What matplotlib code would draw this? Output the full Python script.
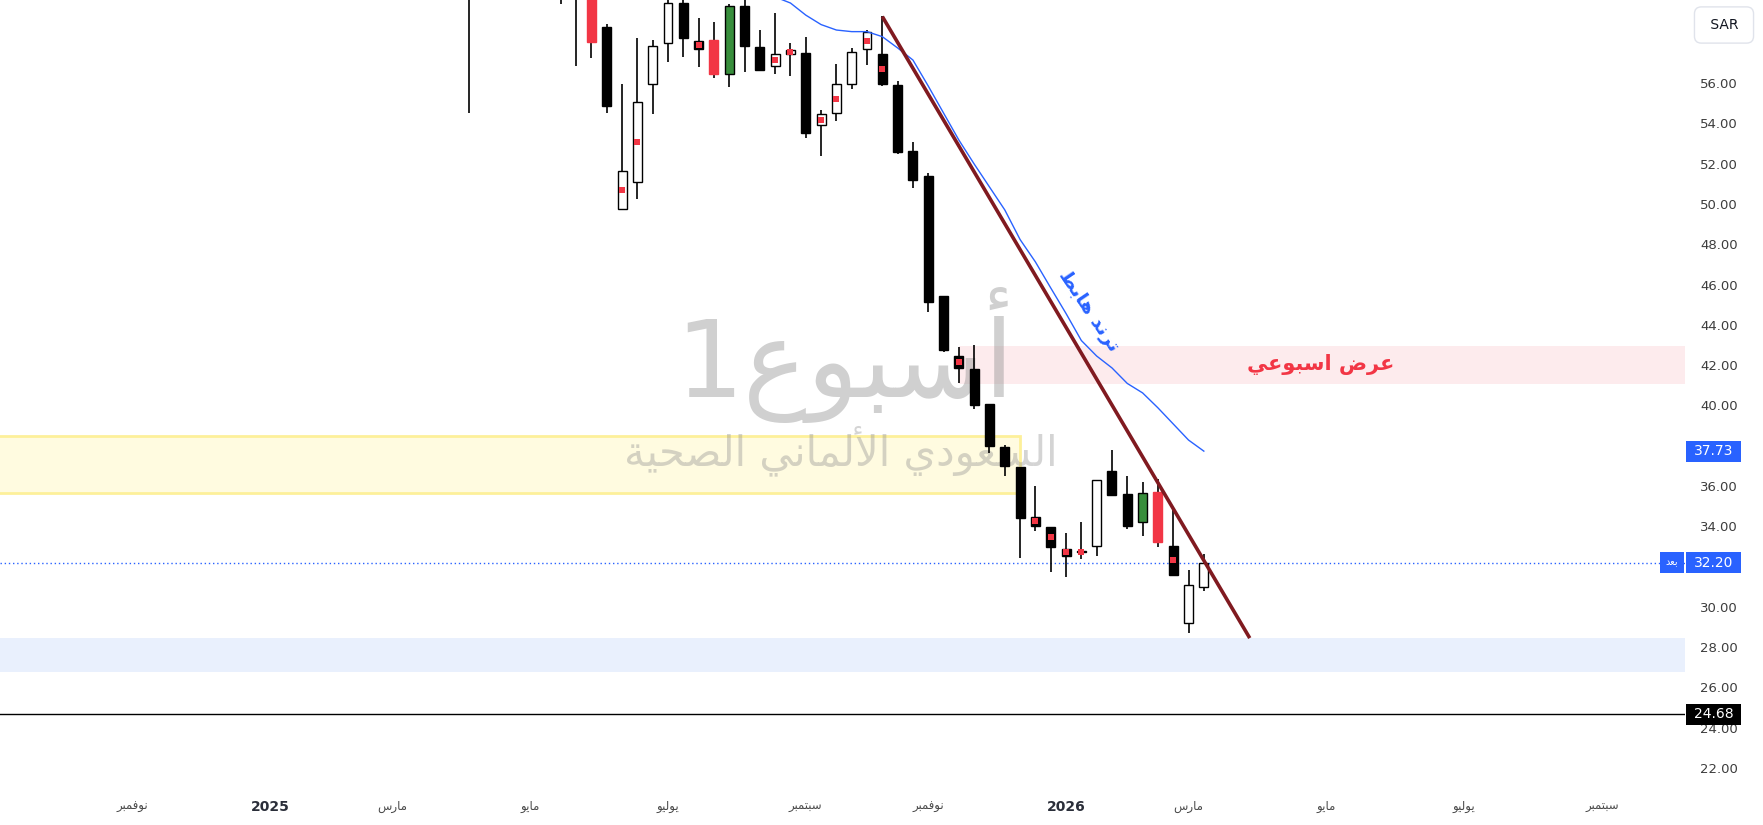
import matplotlib.pyplot as plt
import matplotlib.dates as mdates
from matplotlib.patches import Rectangle
import numpy as np
import pandas as pd

plt.rcParams['font.family'] = ['DejaVu Sans']

# weekly bars, Tadawul weeks start on Sunday
dates = pd.date_range('2025-04-06', periods=49, freq='7D')
opens = [62.8, 61.4, 62.6, 63.5, 62.9, 61.7, 62.2, 61.0, 61.8, 58.76,
         49.73, 51.10, 55.94, 57.97, 59.97, 58.07, 58.13, 56.43, 59.82, 57.79,
         56.83, 57.42, 57.49, 53.90, 54.50, 55.94, 57.67, 57.44, 55.90, 52.63,
         51.38, 45.44, 42.45, 41.79, 40.07, 37.95, 36.96, 34.46, 33.97, 32.86,
         32.76, 33.04, 36.74, 35.60, 34.20, 35.72, 33.02, 29.19, 30.97]
highs = [63.6, 63.2, 64.0, 64.8, 63.8, 62.8, 62.9, 62.5, 62.3, 58.91,
         55.95, 58.22, 58.12, 60.30, 60.30, 59.23, 59.03, 59.92, 60.40, 58.63,
         59.46, 57.99, 58.27, 54.65, 56.94, 57.74, 58.63, 59.33, 56.10, 53.07,
         51.52, 45.44, 42.88, 43.00, 40.07, 38.03, 36.96, 36.00, 33.97, 33.65,
         34.21, 36.28, 37.79, 36.50, 36.20, 36.35, 34.89, 31.83, 32.63]
lows = [54.51, 60.6, 61.8, 62.4, 61.2, 60.5, 59.92, 56.85, 57.24, 54.53,
        49.70, 50.26, 54.48, 57.06, 57.31, 56.81, 56.26, 55.82, 56.56, 56.62,
        56.46, 56.36, 53.29, 52.39, 54.13, 55.72, 56.91, 55.87, 52.49, 50.80,
        44.65, 42.64, 41.10, 39.81, 37.62, 36.51, 32.41, 33.78, 31.75, 31.47,
        32.36, 32.54, 35.57, 33.85, 33.53, 32.99, 31.52, 28.69, 30.80]
closes = [61.4, 62.6, 63.5, 62.9, 61.7, 62.2, 61.0, 61.8, 58.03, 54.87,
          51.62, 55.04, 57.82, 59.96, 58.25, 57.70, 56.46, 59.82, 57.85, 56.66,
          57.42, 57.62, 53.53, 54.45, 55.94, 57.52, 58.52, 55.97, 52.59, 51.21,
          45.15, 42.75, 41.86, 40.02, 38.00, 36.99, 34.43, 34.03, 32.99, 32.54,
          32.72, 36.28, 35.57, 34.03, 35.64, 33.22, 31.60, 31.07, 32.20]

# bars tinted by the indicator, and bars carrying the small red dot
red_bars = [8, 16, 45]
green_bars = [17, 44]
dot_bars = [10, 11, 15, 20, 21, 23, 24, 26, 27, 32, 37, 38, 39, 40, 46]

# blue moving average (starts inside the visible area)
ma_values = [np.nan] * 20 + [60.27, 59.97, 59.37, 58.90, 58.63, 58.55, 58.55, 58.30, 57.74,
                             57.14, 55.85, 54.51, 53.17, 51.98, 50.84, 49.70, 48.23, 47.12,
                             45.83, 44.56, 43.22, 42.45, 41.86, 41.09, 40.62, 39.88, 39.08,
                             38.28, 37.73]

# drawn trend line
trend_dates = ['2025-10-12', '2026-03-29']
trend_prices = [59.30, 28.45]

# zones
yellow_zone = (35.63, 38.47, '2024-08-01', '2025-12-14')
pink_zone = (41.07, 42.95, '2025-11-16', '2027-01-01')
blue_zone = (26.77, 28.46)

last_price = 32.20
ma_last = 37.73
support_line = 24.68

# price scale (32.00 is hidden by the last price tag)
price_ticks = [22, 24, 26, 28, 30, 34, 36, 38, 40, 42, 44, 46, 48, 50, 52, 54, 56]

# x axis labels
tick_dates = ['2024-11-03', '2025-01-05', '2025-03-02', '2025-05-04', '2025-07-06', '2025-09-07',
              '2025-11-02', '2026-01-04', '2026-03-01', '2026-05-03', '2026-07-05', '2026-09-06']
tick_labels = ['نوفمبر', '2025', 'مارس', 'مايو', 'يوليو', 'سبتمبر',
               'نوفمبر', '2026', 'مارس', 'مايو', 'يوليو', 'سبتمبر']

RED = '#f23645'
GREEN = '#388e3c'
BLUE = '#2962ff'

# Arabic presentation forms: isolated, final, initial, medial
FORMS = {
    'ا': ('\ufe8d', '\ufe8e', None, None),
    'أ': ('\ufe83', '\ufe84', None, None),
    'ب': ('\ufe8f', '\ufe90', '\ufe91', '\ufe92'),
    'ت': ('\ufe95', '\ufe96', '\ufe97', '\ufe98'),
    'ة': ('\ufe93', '\ufe94', None, None),
    'ح': ('\ufea1', '\ufea2', '\ufea3', '\ufea4'),
    'د': ('\ufea9', '\ufeaa', None, None),
    'ر': ('\ufead', '\ufeae', None, None),
    'س': ('\ufeb1', '\ufeb2', '\ufeb3', '\ufeb4'),
    'ص': ('\ufeb9', '\ufeba', '\ufebb', '\ufebc'),
    'ض': ('\ufebd', '\ufebe', '\ufebf', '\ufec0'),
    'ط': ('\ufec1', '\ufec2', '\ufec3', '\ufec4'),
    'ع': ('\ufec9', '\ufeca', '\ufecb', '\ufecc'),
    'ف': ('\ufed1', '\ufed2', '\ufed3', '\ufed4'),
    'ل': ('\ufedd', '\ufede', '\ufedf', '\ufee0'),
    'م': ('\ufee1', '\ufee2', '\ufee3', '\ufee4'),
    'ن': ('\ufee5', '\ufee6', '\ufee7', '\ufee8'),
    'ه': ('\ufee9', '\ufeea', '\ufeeb', '\ufeec'),
    'و': ('\ufeed', '\ufeee', None, None),
    'ي': ('\ufef1', '\ufef2', '\ufef3', '\ufef4'),
}
LAM_ALEF = {'ا': ('\ufefb', '\ufefc'), 'أ': ('\ufef7', '\ufef8')}


def ar(text):
    """Join Arabic letters and reverse them, since matplotlib draws left to right."""
    if not any(ch in FORMS for ch in text):
        return text
    out = []
    i = 0
    while i < len(text):
        ch = text[i]
        if ch not in FORMS:
            out.append(ch)
            i += 1
            continue
        prev = text[i - 1] if i > 0 else None
        joins_prev = prev in FORMS and FORMS[prev][2] is not None
        if ch == 'ل' and i + 1 < len(text) and text[i + 1] in LAM_ALEF:
            out.append(LAM_ALEF[text[i + 1]][1 if joins_prev else 0])
            i += 2
            continue
        nxt = text[i + 1] if i + 1 < len(text) else None
        joins_next = FORMS[ch][2] is not None and nxt in FORMS
        iso, fin, ini, med = FORMS[ch]
        if joins_prev and joins_next:
            out.append(med)
        elif joins_prev:
            out.append(fin)
        elif joins_next:
            out.append(ini)
        else:
            out.append(iso)
        i += 1
    return ''.join(reversed(out))


fig = plt.figure(figsize=(17.63, 8.25), dpi=100)
ax = fig.add_axes([0, 40 / 825, 1685 / 1763, 785 / 825])
for s in ax.spines.values():
    s.set_visible(False)

x = mdates.date2num(dates)
o = np.array(opens)
c = np.array(closes)

# zones
ax.axhspan(blue_zone[0], blue_zone[1], color='#e9f0fd', lw=0, zorder=1)
yz = yellow_zone
ax.add_patch(Rectangle((mdates.datestr2num(yz[2]), yz[0]),
                       mdates.datestr2num(yz[3]) - mdates.datestr2num(yz[2]), yz[1] - yz[0],
                       fc='#fffbe0', ec='#fdf09a', lw=2, zorder=1))
pz = pink_zone
ax.add_patch(Rectangle((mdates.datestr2num(pz[2]), pz[0]),
                       mdates.datestr2num(pz[3]) - mdates.datestr2num(pz[2]), pz[1] - pz[0],
                       fc='#fdebed', ec='none', zorder=1))

# watermark
ax.text(0.5015, 0.4943, ar('أسبوع1'), transform=ax.transAxes, ha='center', va='baseline',
        fontsize=77, color='#8f8f8f', alpha=0.42, zorder=2)
ax.text(0.4991, 0.4076, ar('السعودي الألماني الصحية'), transform=ax.transAxes, ha='center',
        va='baseline', fontsize=30, color='#8f8f8f', alpha=0.38, zorder=2)

# candles
body_colors = np.where(c >= o, 'white', 'black').astype(object)
edge_colors = np.array(['black'] * len(o), dtype=object)
for i in red_bars:
    body_colors[i] = RED
    edge_colors[i] = RED
for i in green_bars:
    body_colors[i] = GREEN
ax.vlines(x, lows, highs, color='black', lw=1.2, zorder=3)
ax.bar(x, np.abs(c - o), bottom=np.minimum(o, c), width=4.1, color=list(body_colors),
       edgecolor=list(edge_colors), linewidth=1, zorder=4)
mid = (o + c) / 2
ax.scatter(x[dot_bars], mid[dot_bars], marker='s', s=14, color=RED, linewidths=0, zorder=5)

# moving average and trend line
ax.plot(x, ma_values, color=BLUE, lw=1, zorder=5)
ax.plot(mdates.datestr2num(trend_dates), trend_prices, color='#801a20', lw=2.6, zorder=6,
        solid_capstyle='butt')

# horizontal lines
ax.axhline(last_price, color=BLUE, lw=1, linestyle=(0, (1, 2)), zorder=2)
ax.axhline(support_line, color='black', lw=1, zorder=2)

# annotations
ax.text(0.784, 41.76, ar('عرض اسبوعي'), transform=ax.get_yaxis_transform(), ha='center',
        va='baseline', fontsize=15, fontweight='bold', color=RED, zorder=7)
ax.text(0.6465, 44.7, ar('ترند هابط'), transform=ax.get_yaxis_transform(), ha='center',
        va='center', rotation=-56, rotation_mode='anchor', fontsize=14, fontweight='bold',
        color=BLUE, zorder=7)

# axes
ax.set_xlim(mdates.datestr2num('2024-09-03 14:00'), mdates.datestr2num('2026-10-14'))
ax.set_ylim(21.16, 60.12)
ax.set_xticks(mdates.datestr2num(tick_dates))
ax.set_xticklabels([ar(t) for t in tick_labels])
for lbl, t in zip(ax.get_xticklabels(), tick_labels):
    lbl.set_va('center')
    if t.isdigit():
        lbl.set_fontweight('bold')
        lbl.set_fontsize(10)
        lbl.set_color('#2a2e39')
    else:
        lbl.set_fontsize(8.5)
        lbl.set_color('#4a4a4a')
ax.tick_params(axis='x', length=0, pad=15.5)

ax.yaxis.tick_right()
ax.set_yticks(price_ticks)
ax.set_yticklabels([f'{v:.2f}' for v in price_ticks])
ax.tick_params(axis='y', length=0, pad=11, labelsize=9.5, labelcolor='#3d3d3d')

# price tags on the right scale
ytr = ax.get_yaxis_transform()
for val, fc in [(ma_last, BLUE), (last_price, BLUE), (support_line, 'black')]:
    ax.add_patch(Rectangle((1.0008, val - 0.52), 0.0325, 1.04, transform=ytr, fc=fc, ec='none',
                           clip_on=False, zorder=8))
    ax.text(1.0008 + 0.01625, val, f'{val:.2f}', transform=ytr, ha='center', va='center',
            fontsize=10, color='white', clip_on=False, zorder=9)
ax.add_patch(Rectangle((0.9852, last_price - 0.52), 0.0141, 1.04, transform=ytr, fc=BLUE,
                       ec='none', zorder=8))
ax.text(0.99225, last_price, ar('بعد'), transform=ytr, ha='center', va='center', fontsize=7,
        color='white', zorder=9)

# currency button
fig.text(1724 / 1763, 1 - 25 / 825, ' SAR ', ha='center', va='center', fontsize=10, color='#131722',
         bbox=dict(boxstyle='round,pad=0.8,rounding_size=0.5', fc='white', ec='#e0e3eb', lw=1))

fig.savefig('out.png', dpi=100)
